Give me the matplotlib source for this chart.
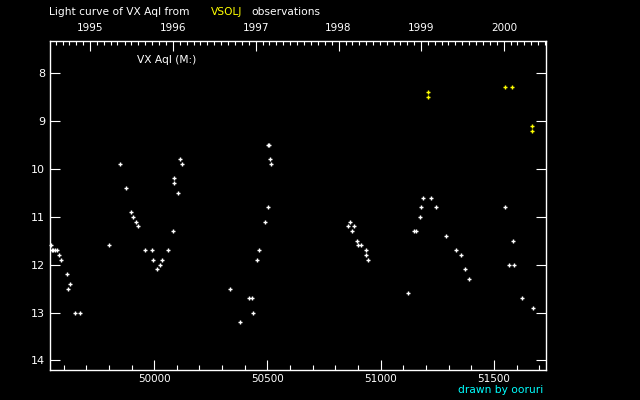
import datetime
import matplotlib
matplotlib.use('Agg')
import matplotlib.pyplot as plt
from matplotlib.ticker import MultipleLocator

# observations (MJD = JD - 2400000, visual magnitude)
white_mjd = [49546, 49547, 49555, 49562, 49572, 49581, 49590, 49616, 49630, 49621,
             49652, 49674, 49802, 49850, 49877, 49899, 49907, 49921, 49929, 49960,
             49991, 49996, 50035, 50027, 50013, 50062, 50084, 50088, 50088, 50106,
             50115, 50124, 50335, 50379, 50419, 50432, 50437, 50454, 50463, 50490,
             50503, 50503, 50507, 50512, 50516, 50856, 50865, 50882, 50873, 50896,
             50900, 50913, 50935, 50935, 50944, 51120, 51146, 51154, 51173, 51178,
             51187, 51222, 51244, 51288, 51332, 51354, 51372, 51390, 51548, 51584,
             51566, 51588, 51623, 51672]
white_mag = [11.6, 11.7, 11.7, 11.7, 11.7, 11.8, 11.9, 12.2, 12.4, 12.5,
             13.0, 13.0, 11.6, 9.9, 10.4, 10.9, 11.0, 11.1, 11.2, 11.7,
             11.7, 11.9, 11.9, 12.0, 12.1, 11.7, 11.3, 10.2, 10.3, 10.5,
             9.8, 9.9, 12.5, 13.2, 12.7, 12.7, 13.0, 11.9, 11.7, 11.1,
             10.8, 9.5, 9.5, 9.8, 9.9, 11.2, 11.1, 11.2, 11.3, 11.5,
             11.6, 11.6, 11.7, 11.8, 11.9, 12.6, 11.3, 11.3, 11.0, 10.8,
             10.6, 10.6, 10.8, 11.4, 11.7, 11.8, 12.1, 12.3, 10.8, 11.5,
             12.0, 12.0, 12.7, 12.9]

# VSOLJ points drawn in yellow
yellow_mjd = [51210, 51210, 51548, 51579, 51667, 51667]
yellow_mag = [8.4, 8.5, 8.3, 8.3, 9.1, 9.2]

years = [1995, 1996, 1997, 1998, 1999, 2000]
y_ticks = [8, 9, 10, 11, 12, 13, 14]
x_ticks = [50000, 50500, 51000, 51500]


def to_mjd(d):
    return (d - datetime.date(1858, 11, 17)).days


W, H = 640, 400
fig = plt.figure(figsize=(6.4, 4.0), dpi=100, facecolor='black')
ax = fig.add_axes([50 / W, 1 - 370 / H, (546 - 50) / W, (370 - 41) / H])
ax.set_facecolor('black')

ax.plot(white_mjd, white_mag, '+', color='white', ms=3.4, mew=1.0, clip_on=False)
ax.plot(yellow_mjd, yellow_mag, '+', color='yellow', ms=3.4, mew=1.0)

ax.set_xlim(49540, 51730)
ax.set_ylim(14.2, 7.33)

for s in ax.spines.values():
    s.set_color('white')
    s.set_linewidth(1.0)

ax.set_xticks(x_ticks)
ax.xaxis.set_minor_locator(MultipleLocator(100))
ax.set_yticks(y_ticks)
ax.tick_params(axis='x', which='major', direction='in', length=7.2, width=0.8,
               colors='white', labelsize=7.5, pad=3, top=False)
ax.tick_params(axis='x', which='minor', direction='in', length=3.6, width=0.8,
               colors='white', top=False)
ax.tick_params(axis='y', which='major', direction='in', length=7.2, width=0.8,
               colors='white', labelsize=8, pad=3.5, right=True)

# calendar years on top
ax2 = ax.twiny()
ax2.set_xlim(ax.get_xlim())
ax2.set_xticks([to_mjd(datetime.date(y, 1, 1)) for y in years])
ax2.set_xticklabels([str(y) for y in years])
months = [to_mjd(datetime.date(y, m, 1)) for y in range(1994, 2001) for m in range(1, 13)]
ax2.set_xticks([m for m in months if 49540 <= m <= 51730], minor=True)
ax2.tick_params(axis='x', which='major', direction='in', length=7.2, width=0.8,
                colors='white', labelsize=7.5, pad=6)
ax2.tick_params(axis='x', which='minor', direction='in', length=3, width=0.8,
                colors='white')
for s in ax2.spines.values():
    s.set_visible(False)

fig.text(49 / W, 1 - 12 / H, 'Light curve of VX Aql from', color='white',
         fontsize=7.7, va='center', ha='left')
fig.text(211 / W, 1 - 12 / H, 'VSOLJ', color='yellow', fontsize=7.7, va='center', ha='left')
fig.text(251 / W, 1 - 12 / H, 'observations', color='white', fontsize=7.7,
         va='center', ha='left')
fig.text(137 / W, 1 - 60 / H, 'VX Aql (M:)', color='white', fontsize=7.7,
         va='center', ha='left')
fig.text(543 / W, 1 - 390 / H, 'drawn by ooruri', color='cyan', fontsize=7.7,
         va='center', ha='right')

fig.savefig('out.png', dpi=100, facecolor='black')
